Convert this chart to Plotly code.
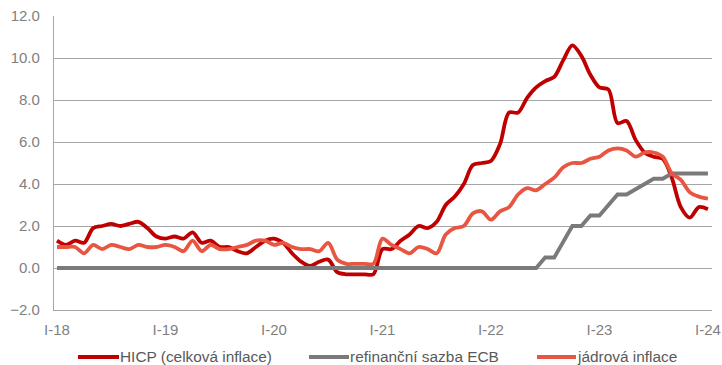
import plotly.graph_objects as go

# monthly data Jan 2018 .. Jan 2024 (73 months)
months = list(range(73))
tick_labels = ["I-18", "I-19", "I-20", "I-21", "I-22", "I-23", "I-24"]

hicp = [
    1.3, 1.1, 1.3, 1.2, 1.9, 2.0, 2.1, 2.0, 2.1, 2.2, 1.9, 1.5,   # 2018
    1.4, 1.5, 1.4, 1.7, 1.2, 1.3, 1.0, 1.0, 0.8, 0.7, 1.0, 1.3,   # 2019
    1.4, 1.2, 0.7, 0.3, 0.1, 0.3, 0.4, -0.2, -0.3, -0.3, -0.3, -0.3,  # 2020
    0.9, 0.9, 1.3, 1.6, 2.0, 1.9, 2.2, 3.0, 3.4, 4.0, 4.9, 5.0,   # 2021
    5.1, 5.9, 7.4, 7.4, 8.1, 8.6, 8.9, 9.1, 9.9, 10.6, 10.1, 9.2, # 2022
    8.6, 8.5, 6.9, 7.0, 6.1, 5.5, 5.3, 5.2, 4.3, 2.9, 2.4, 2.9,   # 2023
    2.8,                                                          # 2024
]

refi = [0.0] * 54 + [
    0.5, 0.5, 1.25, 2.0, 2.0, 2.5,          # Jul-Dec 2022
    2.5, 3.0, 3.5, 3.5, 3.75, 4.0, 4.25, 4.25, 4.5, 4.5, 4.5, 4.5,  # 2023
    4.5,                                     # 2024
]

core = [
    1.0, 1.0, 1.0, 0.7, 1.1, 0.9, 1.1, 1.0, 0.9, 1.1, 1.0, 1.0,   # 2018
    1.1, 1.0, 0.8, 1.3, 0.8, 1.1, 0.9, 0.9, 1.0, 1.1, 1.3, 1.3,   # 2019
    1.1, 1.2, 1.0, 0.9, 0.9, 0.8, 1.2, 0.4, 0.2, 0.2, 0.2, 0.2,   # 2020
    1.4, 1.1, 0.9, 0.7, 1.0, 0.9, 0.7, 1.6, 1.9, 2.0, 2.6, 2.7,   # 2021
    2.3, 2.7, 2.9, 3.5, 3.8, 3.7, 4.0, 4.3, 4.8, 5.0, 5.0, 5.2,   # 2022
    5.3, 5.6, 5.7, 5.6, 5.3, 5.5, 5.5, 5.3, 4.5, 4.2, 3.6, 3.4,   # 2023
    3.3,                                                          # 2024
]

names = ["HICP (celková inflace)", "refinanční sazba ECB", "jádrová inflace"]
colors = ["#C00000", "#7A7A7A", "#E85642"]

fig = go.Figure()
fig.add_trace(go.Scatter(x=months, y=hicp, name=names[0], mode="lines",
                         line=dict(color=colors[0], width=3.8, shape="spline", smoothing=0.9)))
fig.add_trace(go.Scatter(x=months, y=refi, name=names[1], mode="lines",
                         line=dict(color=colors[1], width=3.8)))
fig.add_trace(go.Scatter(x=months, y=core, name=names[2], mode="lines",
                         line=dict(color=colors[2], width=3.8, shape="spline", smoothing=0.9)))

# custom legend below the plot (pixel layout converted to paper coordinates)
L, R, T, B = 54, 10, 16, 55
W, H = 722, 365
pw, ph = W - L - R, H - T - B


def px_x(x):
    return (x - L) / pw


def px_y(y):
    return (H - B - y) / ph


legend_sym = [(78, 119), (309, 349), (537, 576)]
legend_y = 356
for name, col, (x0, x1) in zip(names, colors, legend_sym):
    fig.add_shape(type="line", xref="paper", yref="paper",
                  x0=px_x(x0), x1=px_x(x1), y0=px_y(legend_y + 1), y1=px_y(legend_y + 1),
                  line=dict(color=col, width=4))
    fig.add_annotation(text=name, xref="paper", yref="paper", x=px_x(x1), y=px_y(legend_y),
                       xanchor="left", yanchor="middle", showarrow=False, borderpad=0,
                       font=dict(size=15.4, color="#595959"))

grid = "#A6A6A6"
fig.update_layout(
    width=W, height=H,
    margin=dict(l=L, r=R, t=T, b=B, autoexpand=False),
    paper_bgcolor="white", plot_bgcolor="white",
    font=dict(family="Liberation Sans, Arial, sans-serif", size=15, color="#7F7F7F"),
    showlegend=False,
)
fig.update_xaxes(
    range=[-0.33, 72.45], tickmode="array",
    tickvals=[0, 12, 24, 36, 48, 60, 72], ticktext=tick_labels,
    showgrid=False, zeroline=False, showline=True, linecolor=grid, linewidth=1.3,
    ticks="", tickfont=dict(size=15, color="#7F7F7F"), ticklabelstandoff=6, automargin=False,
)
fig.update_yaxes(
    range=[-2, 12], dtick=2, tick0=0, tickformat=".1f",
    showgrid=True, gridcolor=grid, gridwidth=1.3, zeroline=False,
    showline=True, linecolor=grid, linewidth=1.3,
    ticks="", tickfont=dict(size=15, color="#7F7F7F"), ticklabelstandoff=10, automargin=False,
)
fig.write_html("out.html")
